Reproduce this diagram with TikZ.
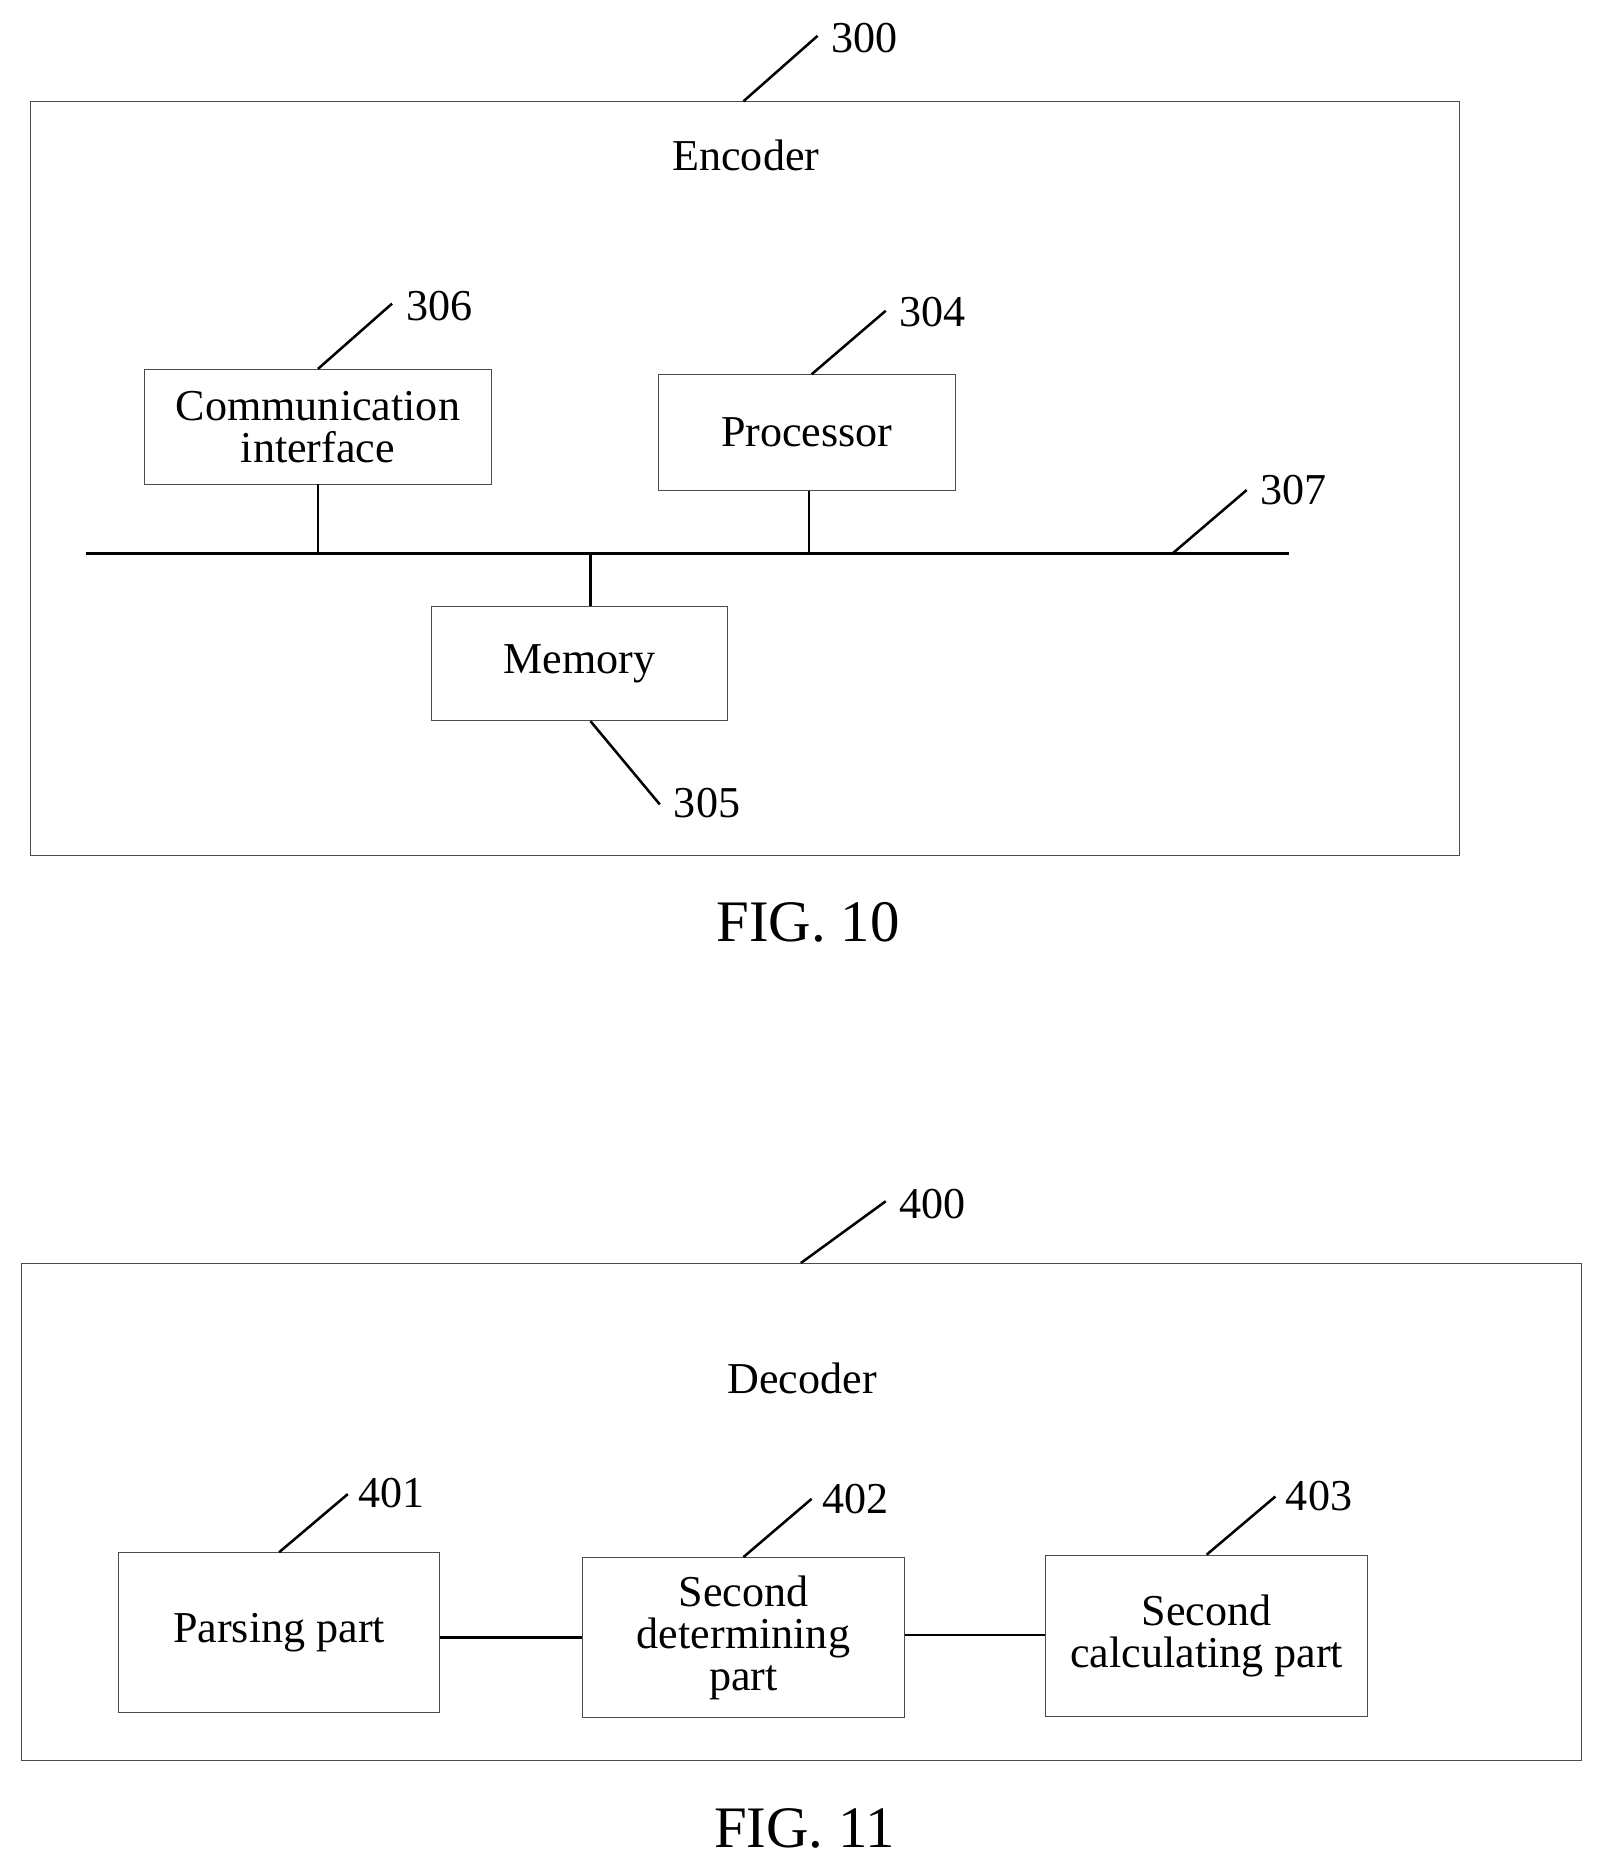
\documentclass[tikz,border=0pt]{standalone}
\usepackage{fontspec}
\setmainfont{Liberation Serif}
\usetikzlibrary{positioning}
\begin{document}
\begin{tikzpicture}[x=0.02cm, y=-0.02cm,
			blk/.style={draw=black!70, rectangle, inner sep=1pt, align=center, font=\fontsize{21}{24}\selectfont},
			frame/.style={draw=black!70, rectangle, inner sep=0pt},
			num/.style={font=\fontsize{21}{24}\selectfont, anchor=west, inner sep=2pt},
			figcap/.style={font=\fontsize{28}{32}\selectfont},
			wire/.style={line width=1.2pt}
			]
			\useasboundingbox (0,0) rectangle (1340,1567);
			% FIG. 10
			\node[frame, minimum width=23.92cm, minimum height=12.62cm] (enc) at (623,400.5) {};
			\node[blk, draw=none] (enctxt) at (624,130) {Encoder};
			\node[blk, minimum width=5.8cm, minimum height=1.92cm] (comm) at (266,357) {Communication\\[-4pt]interface};
			\node[blk, minimum width=4.96cm, minimum height=1.94cm] (proc) at (675,362) {Processor};
			\node[blk, minimum width=4.96cm, minimum height=1.92cm] (mem) at (485,555) {Memory};
			\coordinate (busl) at (72,463);
			\coordinate (busr) at (1078,463);
			\draw[wire] (busl) -- (busr);
			\draw[wire] (comm.south) -- (comm.south|-busl);
			\draw[wire] (proc.south-|677,0) -- (677,463);
			\draw[wire] (494,463) -- (mem.north-|494,0);
			% reference numerals
			\coordinate (c300) at (684,30);
			\draw[wire] (enc.north-|622,0) -- (c300);
			\node[num] (n300) at (692,32) {300};
			\coordinate (c306) at (328,254);
			\draw[wire] (comm.north) -- (c306);
			\node[num] (n306) at (336,256) {306};
			\coordinate (c304) at (741,260);
			\draw[wire] (proc.north-|679,0) -- (c304);
			\node[num] (n304) at (749,261) {304};
			\coordinate (c307) at (1043,410);
			\draw[wire] (981,463) -- (c307);
			\node[num] (n307) at (1051,410) {307};
			\coordinate (c305) at (552,673);
			\draw[wire] (mem.south-|494,0) -- (c305);
			\node[num] (n305) at (560,672) {305};
			\node[figcap] (fig10) at (676,772) {FIG. 10};
			% FIG. 11
			\node[frame, minimum width=26.1cm, minimum height=8.32cm] (dec) at (670.5,1265) {};
			\node[blk, draw=none] (dectxt) at (671,1153) {Decoder};
			\node[blk, minimum width=5.38cm, minimum height=2.68cm] (pars) at (233.5,1366) {Parsing part};
			\node[blk, minimum width=5.4cm, minimum height=2.68cm] (det) at (622,1370) {Second\\[-4pt]determining\\[-4pt]part};
			\node[blk, minimum width=5.38cm, minimum height=2.7cm] (calc) at (1009.5,1368.5) {Second\\[-4pt]calculating part};
			\draw[wire] (pars.east|-0,1370) -- (det.west|-0,1370);
			\draw[wire] (det.east|-0,1368) -- (calc.west|-0,1368);
			\coordinate (c400) at (741,1005);
			\draw[wire] (dec.north-|670,0) -- (c400);
			\node[num] (n400) at (749,1007) {400};
			\coordinate (c401) at (291,1250);
			\draw[wire] (pars.north) -- (c401);
			\node[num] (n401) at (296,1249) {401};
			\coordinate (c402) at (679,1254);
			\draw[wire] (det.north) -- (c402);
			\node[num] (n402) at (684,1254) {402};
			\coordinate (c403) at (1067,1252);
			\draw[wire] (calc.north) -- (c403);
			\node[num] (n403) at (1072,1252) {403};
			\node[figcap] (fig11) at (673,1530) {FIG. 11};
\end{tikzpicture}
\end{document}
